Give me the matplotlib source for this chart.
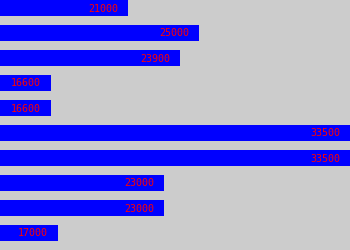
import matplotlib
matplotlib.use("Agg")
import matplotlib.pyplot as plt

values = [21000, 25000, 23900, 16600, 16600, 33500, 33500, 23000, 23000, 17000]
labels = [str(v) for v in values]

fig = plt.figure(figsize=(3.5, 2.5), dpi=100)
fig.patch.set_facecolor("#cccccc")
ax = fig.add_axes([0, 0, 1, 1])
ax.set_facecolor("#cccccc")

pos = list(range(len(values)))
ax.barh(pos, values, height=0.64, color="#0000ff", left=0)
ax.set_xlim(13750, 33500)
ax.set_ylim(9.68, -0.32)

data_per_px = (33500 - 13750) / 350.0
for p, v, lab in zip(pos, values, labels):
    ax.text(v - 10 * data_per_px, p + 0.02, lab, ha="right", va="center",
            color="#ff0000", fontsize=7.2, family="DejaVu Sans Mono")

ax.axis("off")
fig.savefig("out.png", dpi=100, facecolor=fig.get_facecolor())
